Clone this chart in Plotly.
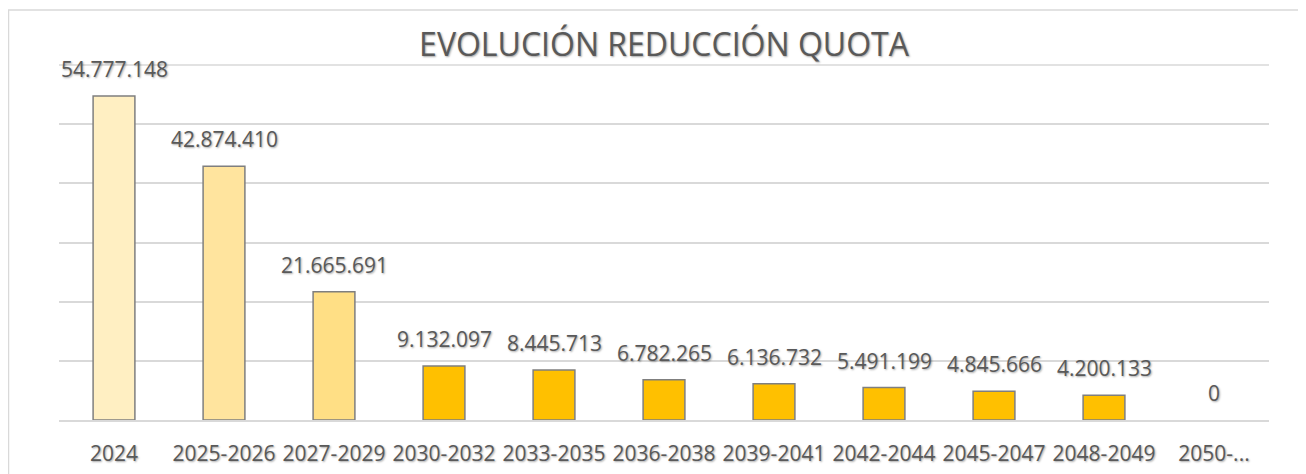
import plotly.graph_objects as go

categories = ["2024", "2025-2026", "2027-2029", "2030-2032", "2033-2035", "2036-2038",
              "2039-2041", "2042-2044", "2045-2047", "2048-2049", "2050-..."]
values = [54777148, 42874410, 21665691, 9132097, 8445713, 6782265,
          6136732, 5491199, 4845666, 4200133, 0]
labels = ["54.777.148", "42.874.410", "21.665.691", "9.132.097", "8.445.713", "6.782.265",
          "6.136.732", "5.491.199", "4.845.666", "4.200.133", "0"]
bar_colors = ["#FFEFC2", "#FFE49E", "#FFDF85", "#FFC000", "#FFC000", "#FFC000",
              "#FFC000", "#FFC000", "#FFC000", "#FFC000", "#FFC000"]
title_text = "EVOLUCIÓN REDUCCIÓN QUOTA"

# page body has an 8px margin, so the figure is slightly smaller than the window
W, H = 1298, 466
L, R, T, B = 51, 37, 57, 54
pw, ph = W - L - R, H - T - B

FONT = "Open Sans"
TXT = "#595959"
SHADOW = "1px 1px 2px rgba(0,0,0,0.35)"

fig = go.Figure()
fig.add_trace(go.Bar(
    x=categories, y=values,
    marker=dict(color=bar_colors,
                line=dict(color="#7F7F7F", width=[1.5 if v else 0 for v in values])),
    hoverinfo="x+y",
))

for i, (v, t) in enumerate(zip(values, labels)):
    fig.add_annotation(x=i, y=v, text=t, showarrow=False, yanchor="middle", yshift=27,
                       font=dict(family=FONT, size=21, color=TXT, shadow=SHADOW))

fig.update_layout(
    width=W, height=H,
    margin=dict(l=L, r=R, t=T, b=B, autoexpand=False),
    paper_bgcolor="white", plot_bgcolor="white",
    bargap=0.62,
    showlegend=False,
    title=dict(text=title_text, x=0.5, xref="paper", xanchor="center",
               y=1 - 37 / H, yref="container", yanchor="middle",
               font=dict(family=FONT, size=32, color=TXT, shadow=SHADOW)),
    xaxis=dict(type="category", range=[-0.5, len(categories) - 0.5], autorange=False,
               automargin=False,
               showgrid=False, showline=True, linecolor="#D9D9D9", linewidth=1.5,
               ticks="", ticklabelstandoff=14,
               tickfont=dict(family=FONT, size=21, color=TXT, shadow=SHADOW)),
    yaxis=dict(range=[0, 60000000], dtick=10000000, showgrid=True, gridcolor="#D9D9D9",
               automargin=False,
               gridwidth=1.5, showticklabels=False, zeroline=False, showline=False),
    shapes=[
        dict(type="line", xref="paper", yref="paper",
             x0=(0 - L) / pw, x1=(W + 5 - L) / pw, y0=(H - 2 - B) / ph, y1=(H - 2 - B) / ph,
             line=dict(color="#D9D9D9", width=1.5)),
        dict(type="line", xref="paper", yref="paper",
             x0=(0.5 - L) / pw, x1=(0.5 - L) / pw, y0=(H - 2 - B) / ph, y1=(-5 - B) / ph,
             line=dict(color="#D9D9D9", width=1.5)),
        dict(type="line", xref="paper", yref="paper",
             x0=0, x1=1, y0=1, y1=1,
             line=dict(color="#D9D9D9", width=1.5)),
    ],
)

fig.write_html("out.html")
